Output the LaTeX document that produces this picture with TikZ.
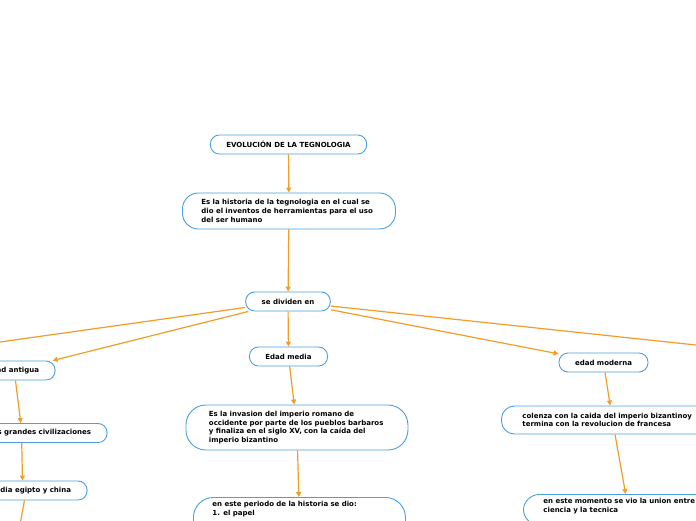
\documentclass[tikz,border=0pt]{standalone}
\usepackage{fontspec}
\setmainfont{DejaVu Sans}
\usetikzlibrary{arrows.meta}
\definecolor{naranja}{HTML}{F39C26}
\definecolor{azul}{HTML}{4AA0DC}
\begin{document}
\begin{tikzpicture}[x=1pt,y=-1pt,font=\bfseries\fontsize{7}{8.7}\selectfont,
	idea/.style={draw=azul,line width=0.9pt,fill=white,rounded corners=9pt,minimum height=19pt,inner xsep=16pt,inner ysep=0pt},
	nota/.style={draw=azul,line width=0.9pt,fill=white,rounded corners=16pt,inner xsep=19pt,align=left,anchor=west},
	flecha/.style={draw=naranja,line width=1.2pt,-{Triangle[length=5pt,width=5pt]}}]
	\useasboundingbox (0,0) rectangle (696,520);
	\clip (0,0) rectangle (696,520);
	% tema central
	\node[idea] (evo) at (288.5,144.5) {EVOLUCIÓN DE LA TEGNOLOGIA};
	\node[nota,text width=175pt,minimum height=36pt] (hist) at (182,211) {Es la historia de la tegnologia en el cual se\\ dio el inventos de herramientas para el uso\\ del ser humano};
	\node[idea] (div) at (288,301.5) {se dividen en};
	\coordinate (izq) at (-10,343.4);
	\coordinate (der) at (710,346.5);
	% edad antigua
	\node[idea,anchor=east] (antigua) at (55.5,370.5) {Edad antigua};
	\node[idea,anchor=east] (grandes) at (107.5,433) {las grandes civilizaciones};
	\node[idea,anchor=east] (india) at (87.5,490.5) {India egipto y china};
	\coordinate (abajo) at (19,530);
	% edad media
	\node[idea] (media) at (288.5,356.5) {Edad media};
	\node[nota,inner xsep=23pt,text width=176pt,minimum height=45pt,rounded corners=20pt] (inv) at (185.5,427.5) {Es la invasion del imperio romano de\\ occidente por parte de los pueblos barbaros\\ y finaliza en el siglo XV, con la caída del\\ imperio bizantino};
	\node[nota,text width=174pt,inner ysep=4pt,anchor=north west,rounded corners=20pt] (periodo) at (193,497) {en este periodo de la historia se dio:\\ 1. el papel\\ \phantom{x}\\ \phantom{x}\\ \phantom{x}};
	% edad moderna
	\node[idea] (moderna) at (603.5,362.5) {edad moderna};
	\node[nota,inner xsep=21pt,text width=180pt,minimum height=28pt,rounded corners=13pt] (colenza) at (501,420) {colenza con la caida del imperio bizantinoy\\ termina con la revolucion de francesa};
	\node[nota,inner xsep=20pt,text width=170pt,inner ysep=4pt,anchor=north west,rounded corners=16pt] (momento) at (523,494) {en este momento se vio la union entre\\ ciencia y la tecnica\\ \phantom{x}};
	% conectores
	\draw[flecha] (evo)--(hist);
	\draw[flecha] (hist)--(div);
	\foreach \a/\b in {div/izq,div/antigua,div/media,div/moderna,div/der,media/inv,inv/periodo,moderna/colenza,colenza/momento}
		\draw[flecha] (\a)--(\b);
	\draw[flecha] ([xshift=2.5pt]antigua.south)--([xshift=-20pt]grandes.north);
	\draw[flecha] ([xshift=-19pt]grandes.south)--([xshift=-9.5pt]india.north);
	\draw[flecha] ([xshift=-7.5pt]india.south)--(abajo);
\end{tikzpicture}
\end{document}
